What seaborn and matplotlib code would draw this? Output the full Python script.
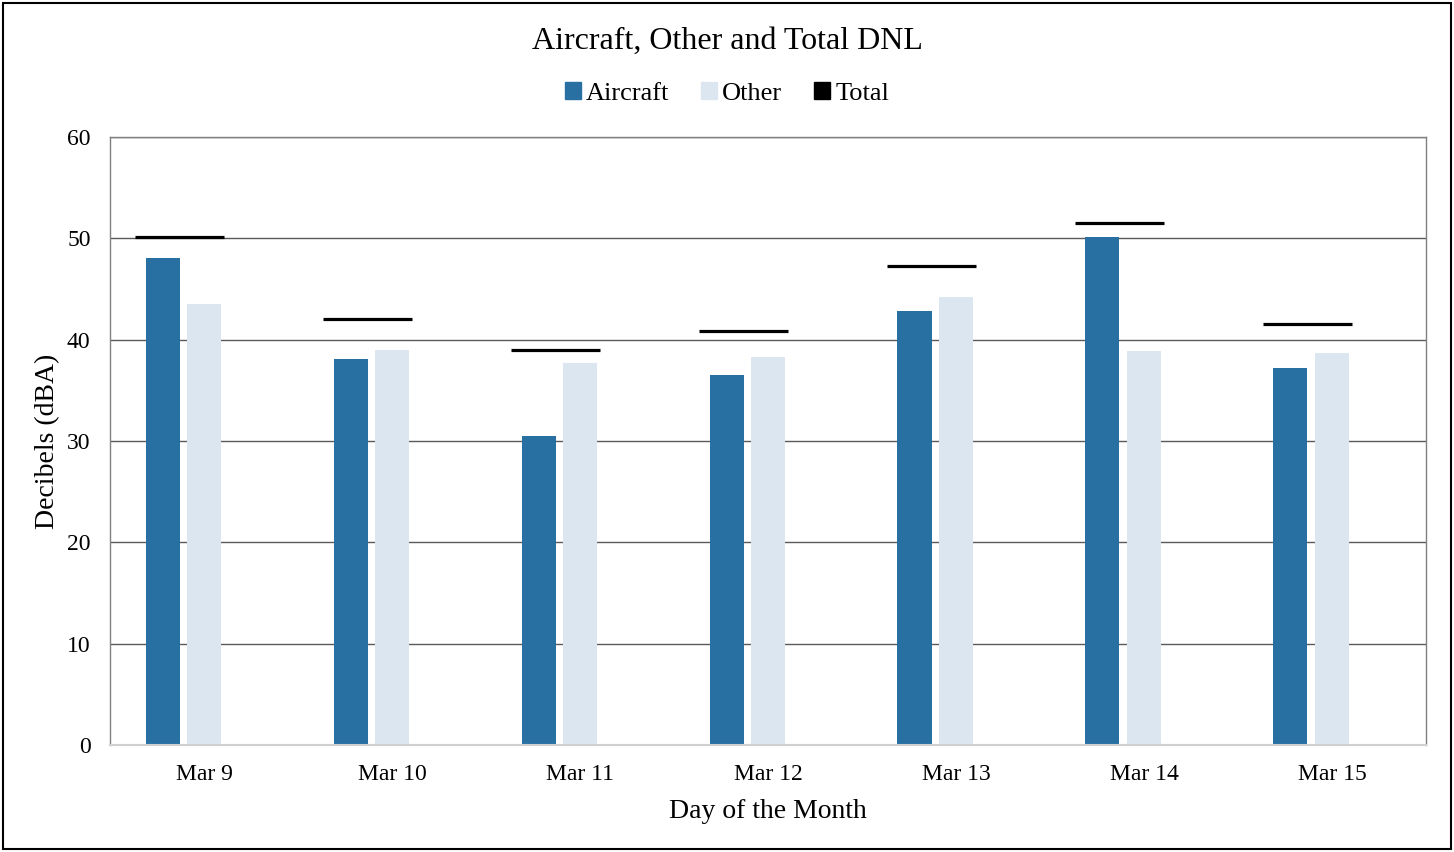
import matplotlib
matplotlib.use("Agg")
import matplotlib.pyplot as plt
import numpy as np
import pandas as pd
import seaborn as sns
from matplotlib.patches import Rectangle

# data
days = ["Mar 9", "Mar 10", "Mar 11", "Mar 12", "Mar 13", "Mar 14", "Mar 15"]
aircraft = [48.1, 38.1, 30.5, 36.5, 42.8, 50.1, 37.2]
other = [43.5, 39.0, 37.7, 38.3, 44.2, 38.9, 38.7]
total = [50.1, 42.0, 39.0, 40.9, 47.3, 51.5, 41.5]
y_ticks = [0, 10, 20, 30, 40, 50, 60]

AIRCRAFT_COLOR = "#2870A2"
OTHER_COLOR = "#DCE6F0"

df = pd.DataFrame({
    "day": days * 3,
    "dBA": aircraft + other + total,
    "series": ["Aircraft"] * 7 + ["Other"] * 7 + ["Total"] * 7,
})

sns.set_style("white")
plt.rcParams["font.family"] = ["Liberation Serif", "DejaVu Serif"]
plt.rcParams["text.color"] = "black"
plt.rcParams["axes.labelcolor"] = "black"
plt.rcParams["xtick.color"] = "black"
plt.rcParams["ytick.color"] = "black"

fig = plt.figure(figsize=(14.54, 8.52), dpi=100)
ax = fig.add_axes([0.0757, 0.1256, 0.905, 0.7136])

sns.barplot(
    data=df, x="day", y="dBA", hue="series",
    hue_order=["Aircraft", "Other", "Total"],
    palette={"Aircraft": AIRCRAFT_COLOR, "Other": OTHER_COLOR, "Total": "white"},
    width=0.662, gap=0.18, order=days, legend=False, ax=ax,
    saturation=1, linewidth=0,
)
# third slot only keeps the Excel-style spacing, hide it
for bar in ax.containers[2]:
    bar.set_visible(False)

# total as short line over each group
xpos = np.arange(len(days))
ax.hlines(total, xpos - 0.367, xpos + 0.106, color="black", linewidth=2.3, zorder=4)

ax.set_xlim(-0.5, len(days) - 0.5)
ax.set_ylim(0, 60)
ax.set_yticks(y_ticks)
ax.yaxis.grid(True, color="#5a5a5a", linewidth=1.0)
ax.set_axisbelow(True)
for side in ["left", "top", "right"]:
    ax.spines[side].set_color("#808080")
    ax.spines[side].set_linewidth(1.0)
ax.spines["bottom"].set_color("#d0d0d0")
ax.spines["bottom"].set_linewidth(1.5)
ax.tick_params(axis="both", length=0, labelsize=17)
ax.tick_params(axis="y", pad=14)
ax.tick_params(axis="x", pad=14)

ax.set_xlabel("Day of the Month", fontsize=20, labelpad=10)
ax.set_ylabel("Decibels (dBA)", fontsize=20, labelpad=5)

fig.text(0.5, 0.952, "Aircraft, Other and Total DNL", ha="center", va="center", fontsize=23)

handles = [
    Rectangle((0, 0), 1, 1, color=AIRCRAFT_COLOR),
    Rectangle((0, 0), 1, 1, color=OTHER_COLOR),
    Rectangle((0, 0), 1, 1, color="black"),
]
fig.legend(
    handles, ["Aircraft", "Other", "Total"], loc="center", bbox_to_anchor=(0.5, 0.89),
    ncol=3, frameon=False, fontsize=19, handlelength=0.6, handleheight=0.6,
    handletextpad=0.2, columnspacing=1.2,
)

# outer border
fig.patches.append(Rectangle((0.002, 0.003), 0.996, 0.994, transform=fig.transFigure,
                             fill=False, edgecolor="black", linewidth=1.5))

fig.savefig("out.png", dpi=100)
